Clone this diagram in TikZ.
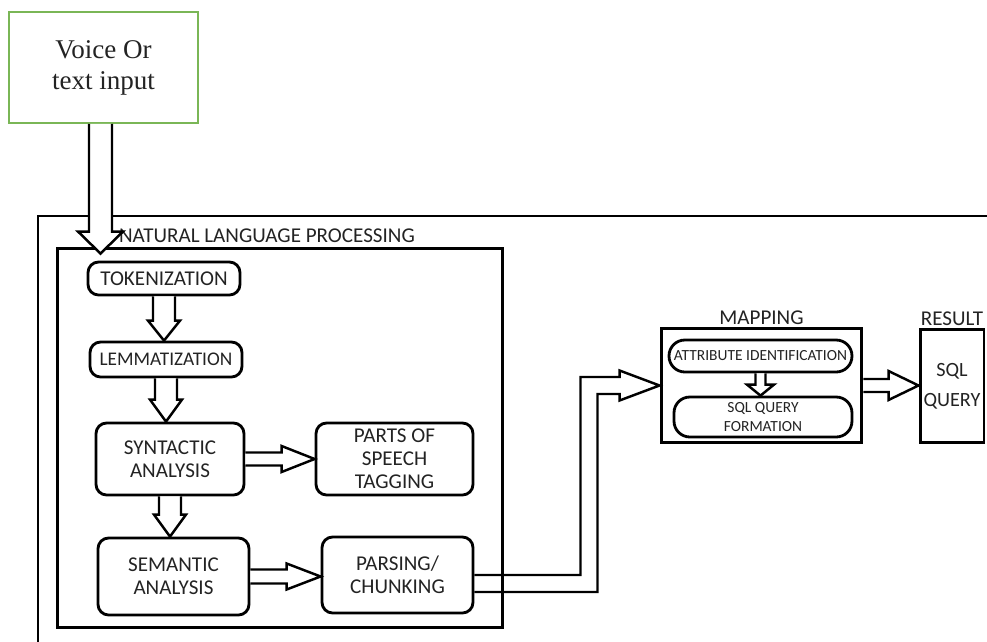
\documentclass[tikz,border=0pt]{standalone}
\usepackage{fontspec}
\setmainfont{Liberation Serif}
\setsansfont{Carlito}
\usetikzlibrary{calc,positioning}
\definecolor{ingreen}{RGB}{122,182,86}
\definecolor{ink}{RGB}{35,35,35}
% hollow block arrows: #1 base, #2 tip, #3 shaft half width, #4 head half width, #5 head length
\def\blkdown#1#2#3#4#5{\draw[blk] ($(#1)+(-#3,0)$) -- ($(#2)+(-#3,-#5)$) -- ($(#2)+(-#4,-#5)$) -- (#2)
	-- ($(#2)+(#4,-#5)$) -- ($(#2)+(#3,-#5)$) -- ($(#1)+(#3,0)$);}
\def\blkright#1#2#3#4#5{\draw[blk] ($(#1)+(0,-#3)$) -- ($(#2)+(-#5,-#3)$) -- ($(#2)+(-#5,-#4)$) -- (#2)
	-- ($(#2)+(-#5,#4)$) -- ($(#2)+(-#5,#3)$) -- ($(#1)+(0,#3)$);}
\begin{document}
\begin{tikzpicture}[x=0.02cm,y=-0.02cm,
	box/.style={draw, line width=1.6pt, rounded corners=6pt, align=center, inner sep=0pt,
		text=ink, font=\sffamily\fontsize{12}{13.2}\selectfont},
	lbl/.style={text=ink, inner sep=1pt, font=\sffamily\fontsize{12}{13.2}\selectfont},
	blk/.style={draw, line width=1.4pt, fill=white, line join=miter}]
\useasboundingbox (0,0) rectangle (987,642);
% outer frame (runs off the page)
\draw[line width=1.7pt] (38,642) -- (38,216) -- (987,216);
\node[lbl, anchor=west] (nlplbl) at (117,236) {NATURAL LANGUAGE PROCESSING};
\node[draw, line width=1.7pt, minimum width=8.92cm, minimum height=7.6cm] (nlp) at (280,438) {};
% input
\node[draw=ingreen, line width=1pt, minimum width=3.78cm, minimum height=2.22cm, align=center,
	font=\fontsize{15.4}{17.6}\selectfont, text=ink] (input) at (103.5,67.5) {Voice Or\\text input};
% nlp steps
\node[box, minimum width=3.04cm, minimum height=0.66cm] (tok) at (164,278.5) {TOKENIZATION};
\node[box, minimum width=3.04cm, minimum height=0.70cm,
	font=\sffamily\fontsize{11}{13}\selectfont] (lem) at (166,359.5) {LEMMATIZATION};
\node[box, minimum width=2.96cm, minimum height=1.44cm] (syn) at (170,459) {SYNTACTIC\\ANALYSIS};
\node[box, minimum width=3.14cm, minimum height=1.44cm] (pos) at (394.5,459) {PARTS OF\\SPEECH\\TAGGING};
\node[box, minimum width=3.02cm, minimum height=1.54cm] (sem) at (173.5,576.5) {SEMANTIC\\ANALYSIS};
\node[box, minimum width=3.02cm, minimum height=1.52cm] (parse) at (397.5,575) {PARSING/\\CHUNKING};
% mapping and result
\node[draw, line width=1.7pt, minimum width=4.02cm, minimum height=2.30cm] (map) at (761.5,385.5) {};
\node[lbl, above=0pt of map] (maplbl) {MAPPING};
\node[box, rounded corners=9pt, minimum width=3.66cm, minimum height=0.64cm,
	font=\sffamily\fontsize{8.8}{10}\selectfont] (attr) at (760.5,356) {ATTRIBUTE IDENTIFICATION};
\node[box, rounded corners=9pt, minimum width=3.56cm, minimum height=0.80cm,
	font=\sffamily\fontsize{8.8}{10.5}\selectfont] (sqlf) at (763,417) {SQL QUERY\\FORMATION};
\node[draw, line width=1.7pt, minimum width=1.28cm, minimum height=2.28cm, align=center, inner sep=0pt,
	text=ink, font=\sffamily\fontsize{11.5}{17}\selectfont] (res) at (952,386) {SQL\\QUERY};
\node[lbl, above=0pt of res] (reslbl) {RESULT};
% arrows
\coordinate (inbase) at ($(input.south)+(-3,0)$);
\coordinate (intip) at ($(inbase |- nlp.north)+(0,7)$);
\blkdown{inbase}{intip}{11.5}{22.5}{22}
\blkdown{tok.south}{tok.south |- lem.north}{11}{16}{20}
\blkdown{lem.south}{lem.south |- syn.north}{11}{16}{22}
\blkdown{syn.south}{syn.south |- sem.north}{11}{16}{22}
\blkright{syn.east}{syn.east -| pos.west}{6.5}{13}{33}
\blkright{sem.east}{sem.east -| parse.west}{7}{13}{34}
\blkdown{attr.south}{attr.south |- sqlf.north}{5}{13.5}{11}
\blkright{map.east}{map.east -| res.west}{6.5}{14.5}{30}
% elbow arrow to mapping
\coordinate (pe) at ($(parse.east)+(0,8.5)$);
\coordinate (bend) at (589,0);
\draw[blk, fill=none] ($(pe)+(0,-8.5)$) -- ($(bend |- pe)+(-8.5,-8.5)$) -- ($(bend |- map.west)+(-8.5,-8.5)$)
	-- ($(map.west)+(-40,-8.5)$) -- ($(map.west)+(-40,-15)$) -- (map.west) -- ($(map.west)+(-40,15)$)
	-- ($(map.west)+(-40,8.5)$) -- ($(bend |- map.west)+(8.5,8.5)$) -- ($(bend |- pe)+(8.5,8.5)$) -- ($(pe)+(0,8.5)$);
\end{tikzpicture}
\end{document}
